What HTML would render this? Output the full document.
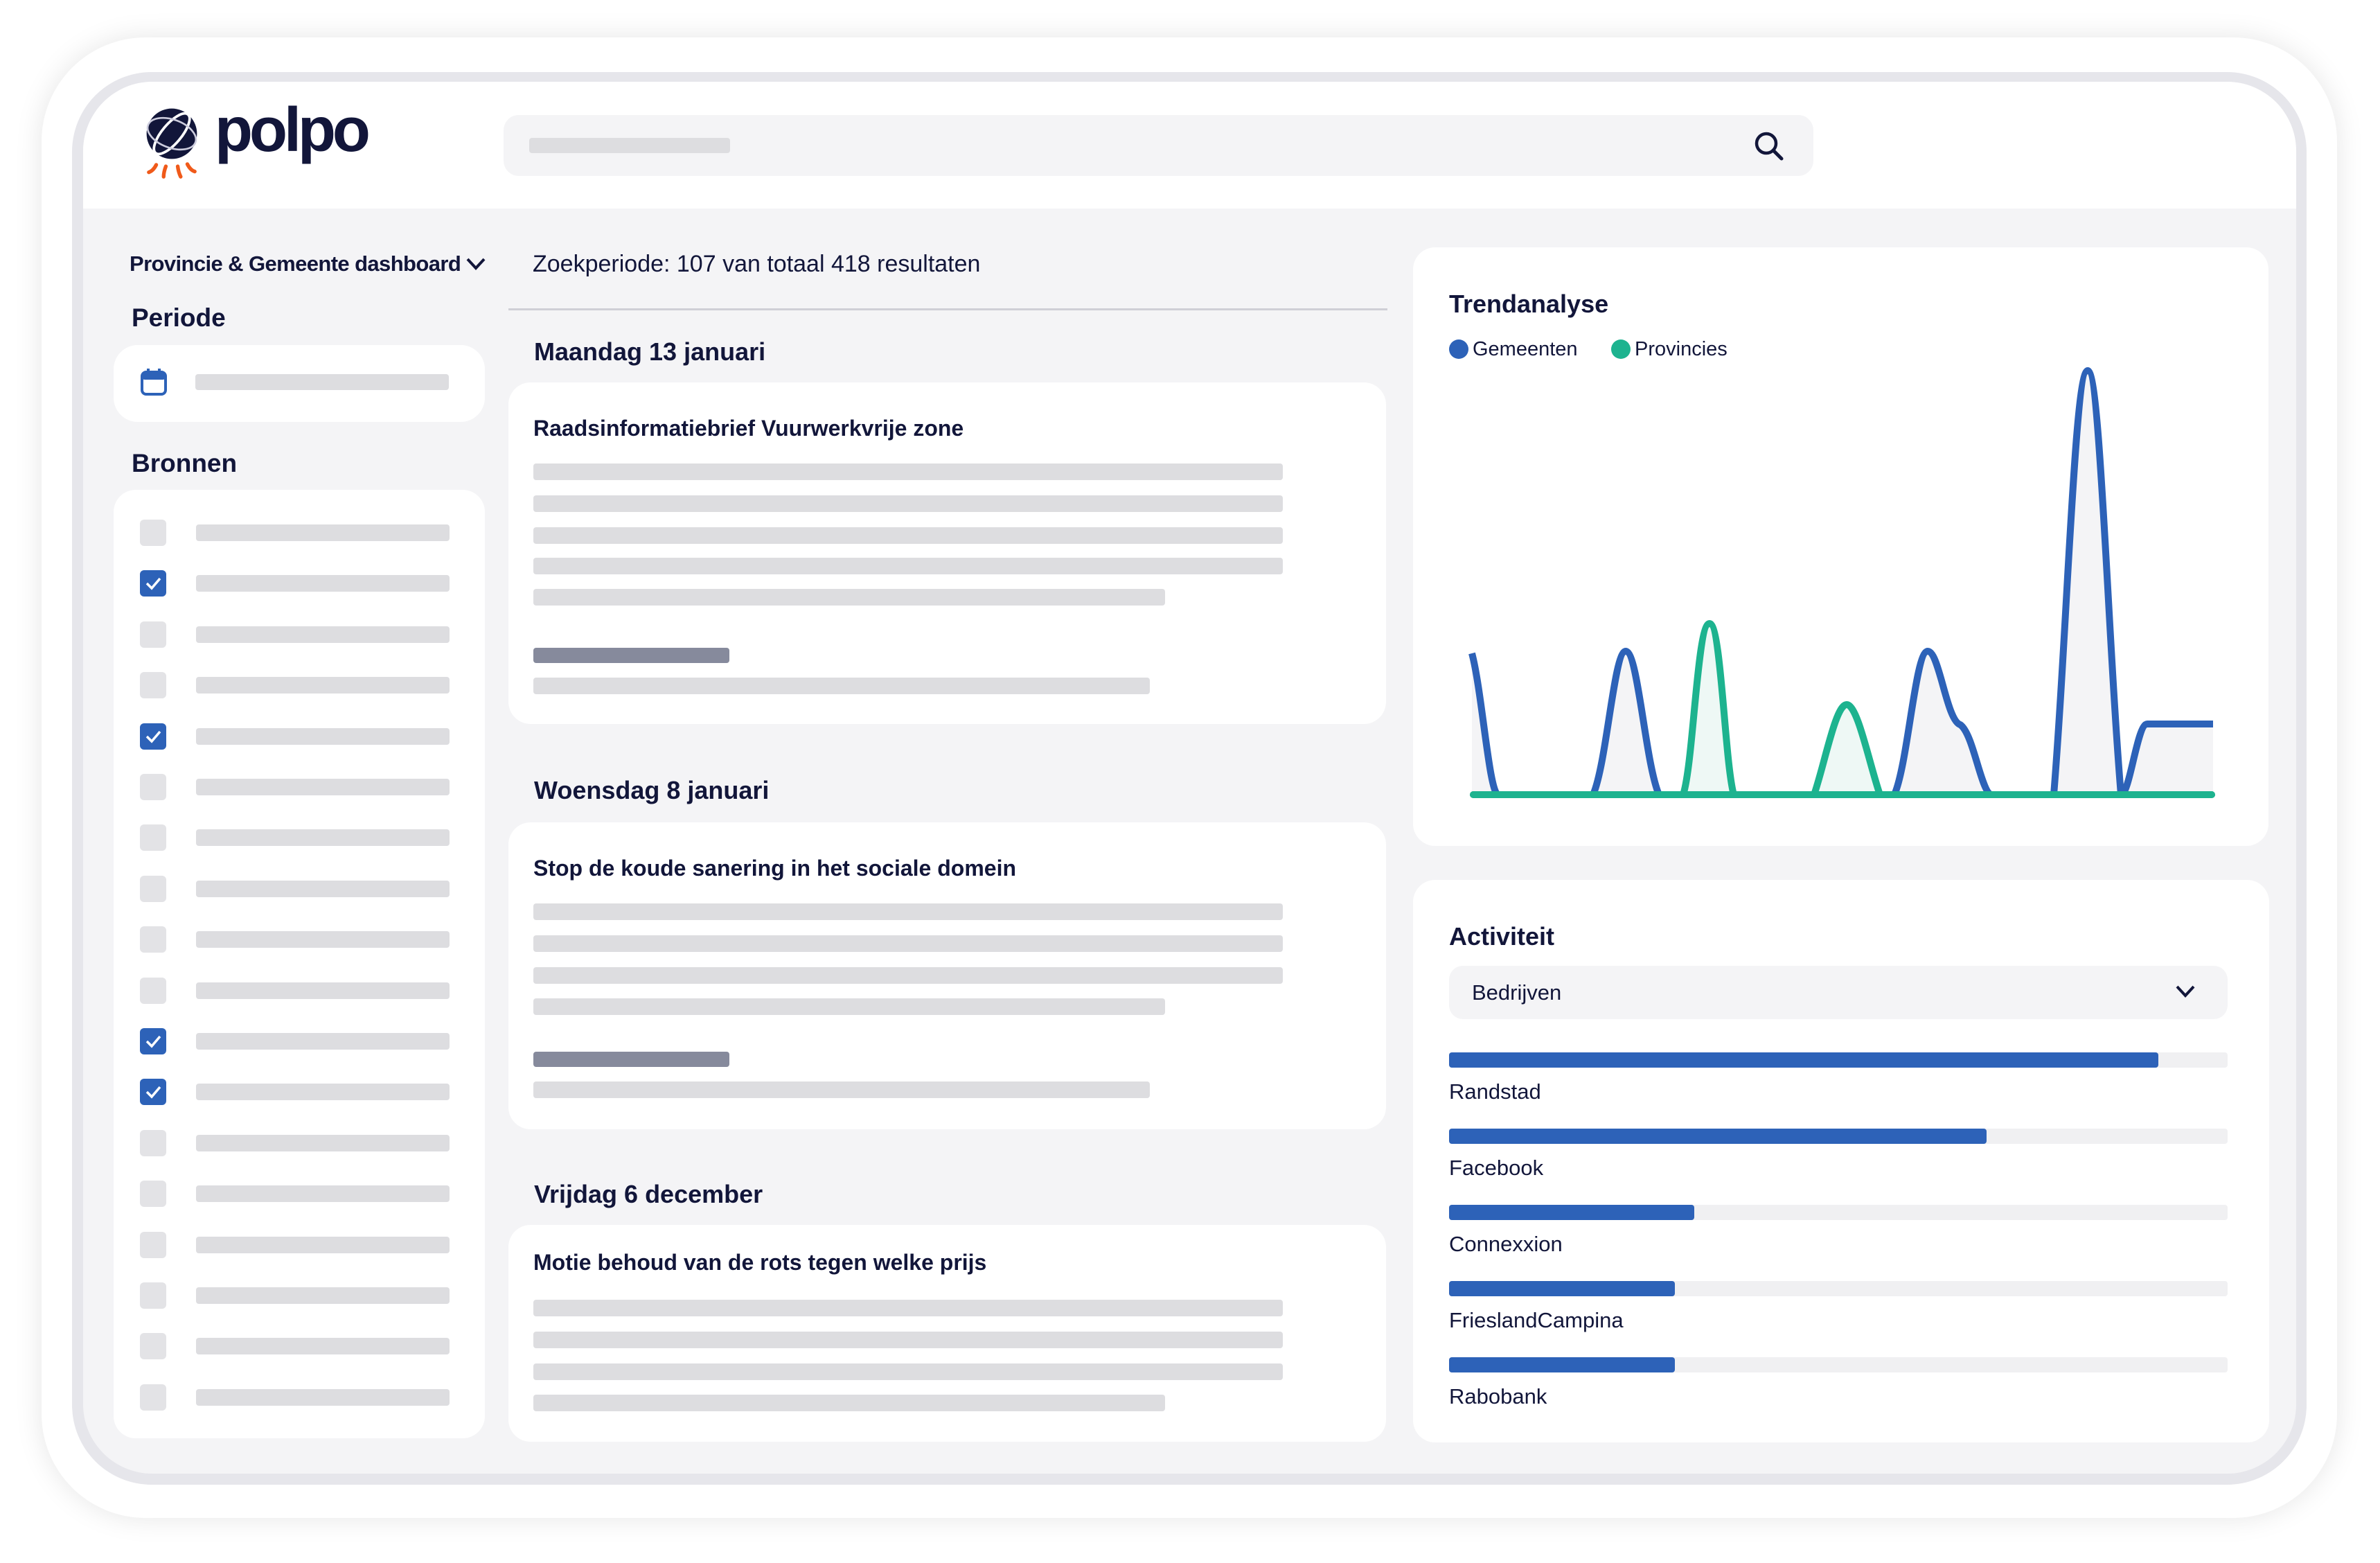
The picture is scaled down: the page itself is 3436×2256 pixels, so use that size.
<!DOCTYPE html>
<html><head><meta charset="utf-8"><style>
*{margin:0;padding:0;box-sizing:border-box}
body{width:3436px;height:2256px;background:#fff;position:relative;overflow:hidden;font-family:"Liberation Sans Narrow","Liberation Sans",sans-serif;color:#12163a}
.a{position:absolute}
.t{position:absolute;white-space:nowrap;line-height:1}
.bar{position:absolute;background:#dddde0;border-radius:4px;height:24px}
.cb{position:absolute;width:38px;height:38px;border-radius:6px;background:#e3e3e6}
.cb.on{background:#2d62b8}
.card{position:absolute;background:#fff;border-radius:32px}
</style></head><body>
<div class="a" style="left:60px;top:54px;width:3314px;height:2137px;border-radius:150px;background:#fff;box-shadow:0 0 40px rgba(0,0,0,0.10)"></div>
<div class="a" style="left:104px;top:104px;width:3226px;height:2039px;border-radius:115px;background:#e6e6eb"></div>
<div class="a" style="left:120px;top:118px;width:3195px;height:2009px;border-radius:100px;background:#f4f4f6;overflow:hidden">
  <div class="a" style="left:0;top:0;width:3195px;height:183px;background:#fff"></div>
</div>
<!-- logo -->
<svg class="a" style="left:202px;top:152px" width="92" height="112" viewBox="0 0 86 100">
<circle cx="43" cy="36" r="34" fill="#12163a"/>
<ellipse cx="43" cy="36" rx="34" ry="13" fill="none" stroke="#fff" stroke-width="3.5" transform="rotate(-50 43 36)"/>
<ellipse cx="43" cy="36" rx="34" ry="19" fill="none" stroke="#ccd" stroke-width="2.5" transform="rotate(20 43 36)"/>
<path d="M22 78 q-4 8 -10 10 M35 80 q-3 8 -3 14 M51 80 q1 8 4 14 M64 77 q4 8 10 10" stroke="#f05a1a" stroke-width="5" fill="none" stroke-linecap="round"/>
</svg>
<div class="t" style="left:310px;top:143px;font-size:90px;font-weight:bold;letter-spacing:-5px;font-family:'Liberation Sans',sans-serif">polpo</div>
<!-- search -->
<div class="a" style="left:727px;top:166px;width:1891px;height:88px;border-radius:22px;background:#f4f4f6"></div>
<div class="a" style="left:764px;top:199px;width:290px;height:22px;border-radius:4px;background:#dddde0"></div>
<svg class="a" style="left:2530px;top:187px" width="48" height="48"><circle cx="20" cy="20" r="14" fill="none" stroke="#12163a" stroke-width="4.5"/><line x1="30" y1="30" x2="42" y2="42" stroke="#12163a" stroke-width="5" stroke-linecap="round"/></svg>
<!-- left -->
<div class="t" style="left:187px;top:365px;font-size:31px;font-weight:bold;letter-spacing:-0.6px">Provincie &amp; Gemeente dashboard</div>
<svg class="a" style="left:672px;top:370px" width="30" height="22"><path d="M3 4 L15 17 L27 4" fill="none" stroke="#12163a" stroke-width="4"/></svg>
<div class="t" style="left:190px;top:440px;font-size:37px;font-weight:bold">Periode</div>
<div class="a" style="left:164px;top:498px;width:536px;height:111px;border-radius:35px;background:#fff"></div>
<svg class="a" style="left:203px;top:531px" width="38" height="40"><rect x="2" y="6" width="34" height="32" rx="6" fill="none" stroke="#2d62b8" stroke-width="4"/><rect x="2" y="6" width="34" height="11" rx="4" fill="#2d62b8"/><rect x="9" y="1" width="4" height="8" fill="#2d62b8"/><rect x="25" y="1" width="4" height="8" fill="#2d62b8"/></svg>
<div class="bar" style="left:282px;top:540px;width:366px;height:23px"></div>
<div class="t" style="left:190px;top:650px;font-size:37px;font-weight:bold">Bronnen</div>
<div class="a" style="left:164px;top:707px;width:536px;height:1369px;border-radius:32px;background:#fff"></div>
<div id="rows"></div>
<!-- middle -->
<div class="t" style="left:769px;top:364px;font-size:34px">Zoekperiode: 107 van totaal 418 resultaten</div>
<div class="a" style="left:734px;top:445px;width:1269px;height:3px;background:#cfcfd6"></div>
<div class="t" style="left:771px;top:490px;font-size:36px;font-weight:bold">Maandag 13 januari</div>
<div class="card" style="left:734px;top:552px;width:1267px;height:493px"></div>
<div class="t" style="left:770px;top:602px;font-size:32px;font-weight:bold">Raadsinformatiebrief Vuurwerkvrije zone</div>
<div class="bar" style="left:770px;top:669px;width:1082px"></div>
<div class="bar" style="left:770px;top:715px;width:1082px"></div>
<div class="bar" style="left:770px;top:761px;width:1082px"></div>
<div class="bar" style="left:770px;top:805px;width:1082px"></div>
<div class="bar" style="left:770px;top:850px;width:912px"></div>
<div class="bar" style="left:770px;top:935px;width:283px;height:22px;background:#868a9c"></div>
<div class="bar" style="left:770px;top:978px;width:890px"></div>

<div class="t" style="left:771px;top:1123px;font-size:36px;font-weight:bold">Woensdag 8 januari</div>
<div class="card" style="left:734px;top:1187px;width:1267px;height:443px"></div>
<div class="t" style="left:770px;top:1237px;font-size:32px;font-weight:bold">Stop de koude sanering in het sociale domein</div>
<div class="bar" style="left:770px;top:1304px;width:1082px"></div>
<div class="bar" style="left:770px;top:1350px;width:1082px"></div>
<div class="bar" style="left:770px;top:1396px;width:1082px"></div>
<div class="bar" style="left:770px;top:1441px;width:912px"></div>
<div class="bar" style="left:770px;top:1518px;width:283px;height:22px;background:#868a9c"></div>
<div class="bar" style="left:770px;top:1561px;width:890px"></div>

<div class="t" style="left:771px;top:1706px;font-size:36px;font-weight:bold">Vrijdag 6 december</div>
<div class="card" style="left:734px;top:1768px;width:1267px;height:313px"></div>
<div class="t" style="left:770px;top:1806px;font-size:32px;font-weight:bold">Motie behoud van de rots tegen welke prijs</div>
<div class="bar" style="left:770px;top:1876px;width:1082px"></div>
<div class="bar" style="left:770px;top:1922px;width:1082px"></div>
<div class="bar" style="left:770px;top:1968px;width:1082px"></div>
<div class="bar" style="left:770px;top:2013px;width:912px"></div>
<!-- trend -->
<div class="card" style="left:2040px;top:357px;width:1235px;height:864px"></div>
<div class="t" style="left:2092px;top:421px;font-size:36px;font-weight:bold">Trendanalyse</div>
<div class="a" style="left:2092px;top:490px;width:28px;height:28px;border-radius:50%;background:#2d62b8"></div>
<div class="t" style="left:2126px;top:490px;font-size:29px">Gemeenten</div>
<div class="a" style="left:2326px;top:490px;width:28px;height:28px;border-radius:50%;background:#1db38f"></div>
<div class="t" style="left:2360px;top:490px;font-size:29px">Provincies</div>
<svg class="a" style="left:0;top:0" width="3436" height="2256">
<path d="M2125,943 C2140,1000 2150,1147 2163,1147 L2300,1147 C2320,1100 2330,940 2347,940 C2365,940 2375,1100 2395,1147 L2735,1147 C2755,1100 2765,940 2783,940 C2800,940 2810,1040 2830,1046 C2850,1060 2860,1147 2876,1147 L2965,1147 C2985,900 2995,535 3014,535 C3032,535 3042,900 3062,1147 C3075,1147 3085,1045 3100,1045 L3195,1045 L3195,1147 L2125,1147Z" fill="#f4f4f6"/>
<path d="M2430,1147 C2445,1100 2450,900 2468,900 C2485,900 2490,1100 2503,1147Z M2619,1147 C2635,1100 2650,1017 2666,1017 C2682,1017 2698,1100 2714,1147Z" fill="#eef8f5"/>
<path d="M2125,943 C2140,1000 2150,1147 2163,1147 L2300,1147 C2320,1100 2330,940 2347,940 C2365,940 2375,1100 2395,1147 L2735,1147 C2755,1100 2765,940 2783,940 C2800,940 2810,1040 2830,1046 C2850,1060 2860,1147 2876,1147 L2965,1147 C2985,900 2995,535 3014,535 C3032,535 3042,900 3062,1147 C3075,1147 3085,1045 3100,1045 L3195,1045" fill="none" stroke="#2d62b8" stroke-width="10" stroke-linejoin="round"/>
<path d="M2127,1147 L2430,1147 C2445,1100 2450,900 2468,900 C2485,900 2490,1100 2503,1147 L2619,1147 C2635,1100 2650,1017 2666,1017 C2682,1017 2698,1100 2714,1147 L3193,1147" fill="none" stroke="#1db38f" stroke-width="10" stroke-linejoin="round" stroke-linecap="round"/>
<line x1="2127" y1="1147" x2="3193" y2="1147" stroke="#1db38f" stroke-width="10" stroke-linecap="round"/>
</svg>
<!-- activiteit -->
<div class="card" style="left:2040px;top:1270px;width:1236px;height:812px"></div>
<div class="t" style="left:2092px;top:1334px;font-size:36px;font-weight:bold">Activiteit</div>
<div class="a" style="left:2092px;top:1394px;width:1124px;height:77px;border-radius:20px;background:#f4f4f6"></div>
<div class="t" style="left:2125px;top:1417px;font-size:31px">Bedrijven</div>
<svg class="a" style="left:3140px;top:1420px" width="30" height="22"><path d="M3 4 L15 17 L27 4" fill="none" stroke="#12163a" stroke-width="4"/></svg>
<div id="acts"></div>
<script>
var r=document.getElementById('rows'),h='';
var on=[1,4,10,11];
for(var i=0;i<18;i++){var y=769+i*73.4;
h+='<div class="cb'+(on.indexOf(i)>=0?' on':'')+'" style="left:202px;top:'+(y-19)+'px"></div>';
if(on.indexOf(i)>=0)h+='<svg class="a" style="left:202px;top:'+(y-19)+'px" width="38" height="38"><path d="M10 19 L17 26 L29 12" fill="none" stroke="#fff" stroke-width="3.5"/></svg>';
h+='<div class="bar" style="left:283px;top:'+(y-12)+'px;width:366px"></div>';}
r.innerHTML=h;
var a=document.getElementById('acts'),g='';
var d=[['Randstad',3116],['Facebook',2868],['Connexxion',2446],['FrieslandCampina',2418],['Rabobank',2418]];
for(var j=0;j<5;j++){var t=1519+j*110;
g+='<div class="a" style="left:2092px;top:'+t+'px;width:1124px;height:22px;border-radius:4px;background:#f0f0f2"></div>';
g+='<div class="a" style="left:2092px;top:'+t+'px;width:'+(d[j][1]-2092)+'px;height:22px;border-radius:4px;background:#2d62b8"></div>';
g+='<div class="t" style="left:2092px;top:'+(t+41)+'px;font-size:31px">'+d[j][0]+'</div>';}
a.innerHTML=g;
</script>
</body></html>
